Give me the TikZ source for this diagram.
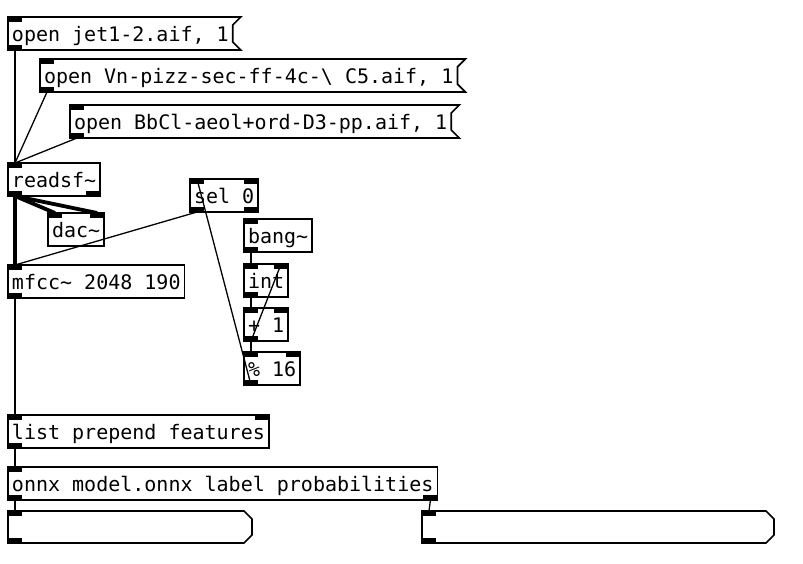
\documentclass[tikz,border=0pt]{standalone}
\usepackage{fontspec}
\setmonofont{DejaVu Sans Mono}
\usepackage{tikz}
\frenchspacing

\tikzset{
  box/.style={draw, line width=1.7pt, anchor=north west, minimum height=33pt, inner xsep=4pt, inner ysep=0pt, outer sep=0pt, text height=17pt, text depth=2pt, font=\ttfamily\fontsize{20}{24}\selectfont},
  msg/.style={box, draw=none},
  atom/.style={msg, minimum height=32pt},
  inl/.style={fill, minimum width=14pt, minimum height=5pt, inner sep=0pt, outer sep=0pt, anchor=north west},
  inr/.style={inl, anchor=north east},
  outl/.style={inl, anchor=south west},
  outr/.style={inl, anchor=south east},
  cord/.style={line width=1.3pt},
  sig/.style={line width=3.8pt}
}

\begin{document}
\begin{tikzpicture}[x=1pt,y=-1pt]
\fill[white] (0,0) rectangle (803,563);
\node[msg] (jet) at (8,17) {open jet1-2.aif, 1};
\node[msg] (vn) at (40,59) {open Vn-pizz-sec-ff-4c-\textbackslash{} C5.aif, 1};
\node[msg] (bb) at (70,105) {open BbCl-aeol+ord-D3-pp.aif, 1};
\node[box] (rd) at (8,163) {readsf\textasciitilde};
\node[box] (sel) at (190,179) {sel 0};
\node[box] (dac) at (48,213) {dac\textasciitilde};
\node[box] (bng) at (244,219) {bang\textasciitilde};
\node[box] (int) at (244,264) {int};
\node[box] (mfcc) at (8,265) {mfcc\textasciitilde{} 2048 190};
\node[box] (inc) at (244,308) {+ 1};
\node[box] (mod) at (244,352) {\% 16};
\node[box] (lst) at (8,415) {list prepend features};
\node[box] (onnx) at (8,467) {onnx model.onnx label probabilities};
\node[atom, minimum width=244pt] (a1) at (8,511) {};
\node[atom, minimum width=352pt] (a2) at (422,511) {};
\foreach \m in {jet,vn,bb}
  \draw[line width=1.7pt] (\m.north west) -- ([xshift=8pt]\m.north east) -- ([yshift=-8pt]\m.north east) -- ([yshift=8pt]\m.south east) -- ([xshift=8pt]\m.south east) -- (\m.south west) -- cycle;
\foreach \m in {a1,a2}
  \draw[line width=1.7pt] (\m.north west) -- ([xshift=-8pt]\m.north east) -- ([yshift=-8pt]\m.north east) -- ([yshift=8pt]\m.south east) -- ([xshift=-8pt]\m.south east) -- (\m.south west) -- cycle;
\foreach \b in {jet,vn,bb,rd,sel,dac,bng,int,inc,mod,mfcc,lst,onnx,a1,a2}
  \node[inl] (\b-i0) at (\b.north west) {};
\foreach \b in {jet,vn,bb,rd,sel,bng,int,inc,mod,mfcc,lst,onnx,a1,a2}
  \node[outl] (\b-o0) at (\b.south west) {};
\foreach \b in {sel,dac,int,inc,mod,lst}
  \node[inr] (\b-i1) at (\b.north east) {};
\foreach \b in {rd,sel,onnx}
  \node[outr] (\b-o1) at (\b.south east) {};
\draw[cord] (jet-o0.south) -- (rd-i0.north);
\draw[cord] (vn-o0.south) -- (rd-i0.north);
\draw[cord] (bb-o0.south) -- (rd-i0.north);
\draw[sig] (rd-o0.south) -- (dac-i0.north);
\draw[sig] (rd-o0.south) -- (dac-i1.north);
\draw[sig] (rd-o0.south) -- (mfcc-i0.north);
\draw[cord] (sel-o0.south) -- (mfcc-i0.north);
\draw[cord] (mod-o0.south) -- (sel-i0.north);
\draw[cord] (bng-o0.south) -- (int-i0.north);
\draw[cord] (int-o0.south) -- (inc-i0.north);
\draw[cord] (inc-o0.south) -- (mod-i0.north);
\draw[cord] (inc-o0.south) -- (int-i1.north);
\draw[cord] (mfcc-o0.south) -- (lst-i0.north);
\draw[cord] (lst-o0.south) -- (onnx-i0.north);
\draw[cord] (onnx-o0.south) -- (a1-i0.north);
\draw[cord] (onnx-o1.south) -- (a2-i0.north);
\end{tikzpicture}
\end{document}
